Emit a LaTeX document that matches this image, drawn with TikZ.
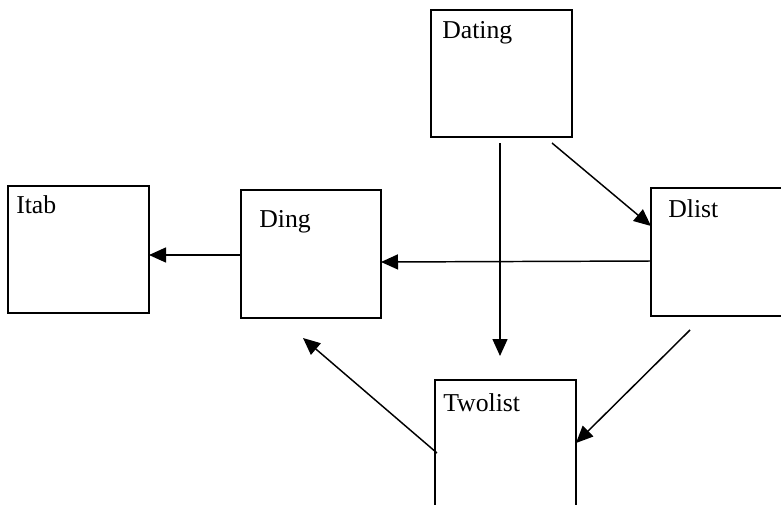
\documentclass[tikz,border=0pt]{standalone}
\usepackage{fontspec}
\setmainfont{Liberation Serif}
\usetikzlibrary{arrows.meta}
\tikzset{
  box/.style={draw, line width=1.5pt, rectangle, inner sep=0pt, fill=none},
  lbl/.style={anchor=base west, inner sep=0pt, font=\fontsize{19.3pt}{22pt}\selectfont},
  conn/.style={line width=1.1pt, -{Triangle[length=12.75pt,width=11.25pt]}}
}
\begin{document}
\begin{tikzpicture}[x=0.75pt,y=-0.75pt]
\useasboundingbox (0,0) rectangle (781,504);
\clip (0,0) rectangle (781,504);
% boxes
\node[box, minimum width=141*0.75pt, minimum height=127*0.75pt] (dating) at (501.5,73.5) {};
\node[box, minimum width=141*0.75pt, minimum height=127*0.75pt] (itab) at (78.5,249.5) {};
\node[box, minimum width=140*0.75pt, minimum height=128*0.75pt] (ding) at (311,254) {};
\node[box, minimum width=149*0.75pt, minimum height=128*0.75pt] (dlist) at (725.5,252) {};
\node[box, minimum width=141*0.75pt, minimum height=140*0.75pt] (twolist) at (505.5,450) {};
% labels
\node[lbl] (datingT) at (442,38) {Dating};
\node[lbl] (itabT) at (16,213) {Itab};
\node[lbl] (dingT) at (259,227) {Ding};
\node[lbl] (dlistT) at (668,217) {Dlist};
\node[lbl] (twolistT) at (443,411) {Twolist};
% connector end points
\coordinate (a1s) at (500,143);
\coordinate (a1e) at (500,356);
\coordinate (a2s) at (552,143);
\coordinate (a2e) at (651,226);
\coordinate (a3s) at (651,261);
\coordinate (a3e) at (381,262);
\coordinate (a4s) at (241,255);
\coordinate (a4e) at (149,255);
\coordinate (a5s) at (690,330);
\coordinate (a5e) at (576,443);
\coordinate (a6s) at (437,453);
\coordinate (a6e) at (303,338);
% connectors
\draw[conn] (a1s) -- (a1e);
\draw[conn] (a2s) -- (a2e);
\draw[conn] (a3s) -- (a3e);
\draw[conn] (a4s) -- (a4e);
\draw[conn] (a5s) -- (a5e);
\draw[conn] (a6s) -- (a6e);
\end{tikzpicture}
\end{document}
